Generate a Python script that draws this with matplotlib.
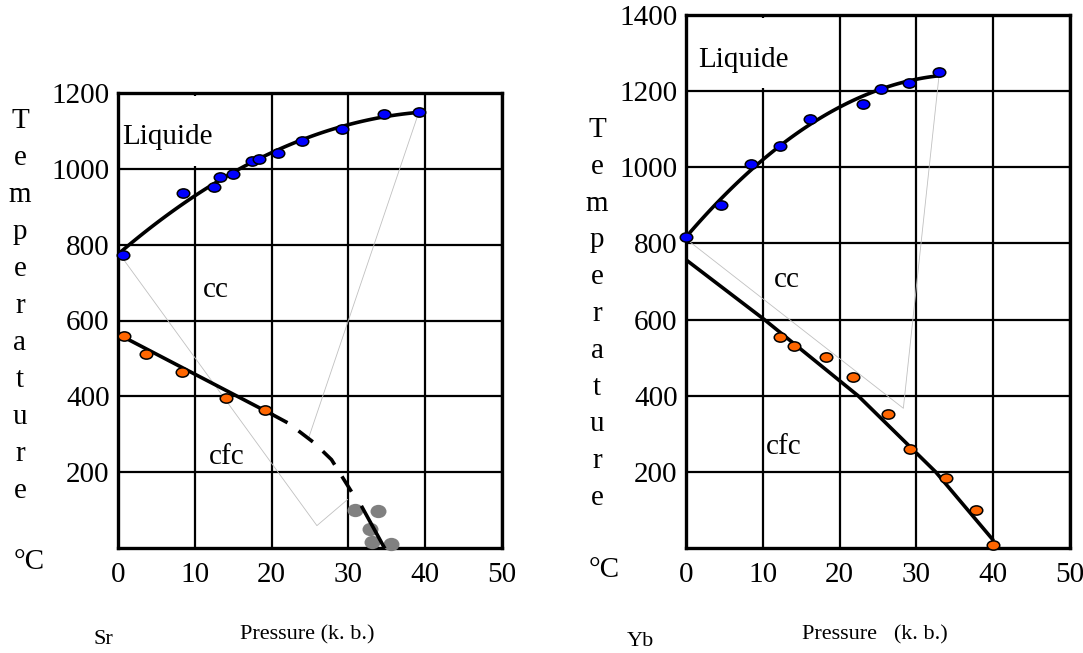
import numpy as np
import matplotlib
matplotlib.use('Agg')
import matplotlib.pyplot as plt
from matplotlib.path import Path
from matplotlib.patches import Rectangle

plt.rcParams['font.family'] = ['Liberation Serif', 'DejaVu Serif']

# ---- Sr (left panel) ----
sr_liq_p = [0.7, 8.4, 12.5, 13.3, 15.0, 17.5, 18.4, 20.8, 24.0, 29.2, 34.7, 39.2]
sr_liq_t = [773, 936, 953, 978, 986, 1020, 1026, 1042, 1073, 1104, 1144, 1151]
sr_fcc_p = [0.8, 3.7, 8.3, 14.0, 19.2]
sr_fcc_t = [559, 511, 465, 396, 363]
sr_hp_p = [30.9, 33.8, 32.8, 33.1, 35.6]
sr_hp_t = [99, 98, 50, 16, 10]
sr_line_p = [0, 20]
sr_line_t = [564, 353]
sr_dash_p = [20, 22.2, 25.5, 27.8, 30.6]
sr_dash_t = [353, 329, 278, 233, 142]
sr_tail_p = [31.8, 34.7]
sr_tail_t = [107, 0]
sr_guide1_p = [0, 25.9, 29.9]
sr_guide1_t = [781, 59, 128]
sr_guide2_p = [39.2, 24.8]
sr_guide2_t = [1151, 289]

# ---- Yb (right panel) ----
yb_liq_p = [0, 4.6, 8.4, 12.3, 16.1, 23.0, 25.4, 29.1, 33.0]
yb_liq_t = [818, 901, 1009, 1056, 1128, 1167, 1205, 1221, 1251]
yb_fcc_p = [12.2, 14.0, 18.2, 21.8, 26.3, 29.2, 33.8, 37.7, 40.0]
yb_fcc_t = [554, 531, 501, 448, 351, 259, 185, 100, 7]
yb_line_p = [0, 10.2, 22.4, 32.5, 39.9]
yb_line_t = [757, 600, 400, 200, 23]
yb_guide_p = [0, 28.3, 33.0]
yb_guide_t = [812, 367, 1251]

xticks = [0, 10, 20, 30, 40, 50]
letters = list('Temperature')

circ = Path.unit_circle()
ellipse = Path(circ.vertices * [1.35, 1.0], circ.codes)
blob = Path(circ.vertices * [1.2, 1.0], circ.codes)

fig = plt.figure(figsize=(10.83, 6.53), dpi=100)
axL = fig.add_axes([118/1083, 1-548/653, 384/1083, 455/653])
axR = fig.add_axes([686/1083, 1-548/653, 384/1083, 533/653])


def setup(ax, ymax):
    ax.set_xlim(0, 50)
    ax.set_ylim(0, ymax)
    ax.set_xticks(xticks)
    ax.set_yticks(range(200, ymax + 1, 200))
    ax.set_axisbelow(True)
    ax.grid(True, color='black', lw=1.6)
    ax.tick_params(length=0, labelsize=21, colors='black')
    ax.tick_params(axis='x', pad=10)
    ax.tick_params(axis='y', pad=6)
    for s in ax.spines.values():
        s.set_linewidth(2.4)
        s.set_color('black')
    # white box behind "Liquide"
    ax.add_patch(Rectangle((0.3, ymax - 192), 14, 184, facecolor='white',
                           edgecolor='none', zorder=1))


setup(axL, 1200)
setup(axR, 1400)

# left
axL.plot(sr_guide1_p, sr_guide1_t, color='#c0c0c0', lw=0.6, zorder=2)
axL.plot(sr_guide2_p, sr_guide2_t, color='#c0c0c0', lw=0.6, zorder=2)
c = np.polyfit(sr_liq_p, sr_liq_t, 2)
xx = np.linspace(0, 39.8, 100)
axL.plot(xx, np.polyval(c, xx), color='black', lw=2.6, zorder=3)
axL.plot(sr_line_p, sr_line_t, color='black', lw=2.6, zorder=3)
axL.plot(sr_dash_p, sr_dash_t, color='black', lw=2.6, ls=(0, (5, 3.8)), zorder=3)
axL.scatter(sr_hp_p, sr_hp_t, marker=blob, s=11.5**2, color='#808080',
            linewidths=0, zorder=3, clip_on=False)
axL.plot(sr_tail_p, sr_tail_t, color='black', lw=2.6, zorder=4)
axL.scatter(sr_liq_p, sr_liq_t, marker=ellipse, s=9**2, color='#0000ff',
            edgecolors='black', linewidths=1.1, zorder=5, clip_on=False)
axL.scatter(sr_fcc_p, sr_fcc_t, marker=ellipse, s=9**2, color='#ff6600',
            edgecolors='black', linewidths=1.1, zorder=5, clip_on=False)
axL.text(0.5, 1084, 'Liquide', fontsize=21, va='center', zorder=6)
axL.text(12.7, 680, 'cc', fontsize=21, ha='center', va='center', zorder=6)
axL.text(14.1, 240, 'cfc', fontsize=21, ha='center', va='center', zorder=6)

# right
axR.plot(yb_guide_p, yb_guide_t, color='#c0c0c0', lw=0.6, zorder=2)
c = np.polyfit(yb_liq_p, yb_liq_t, 2)
xx = np.linspace(0, 33.0, 100)
axR.plot(xx, np.polyval(c, xx), color='black', lw=2.6, zorder=3)
axR.plot(yb_line_p, yb_line_t, color='black', lw=2.6, zorder=3)
axR.scatter(yb_liq_p, yb_liq_t, marker=ellipse, s=9**2, color='#0000ff',
            edgecolors='black', linewidths=1.1, zorder=5, clip_on=False)
axR.scatter(yb_fcc_p, yb_fcc_t, marker=ellipse, s=9**2, color='#ff6600',
            edgecolors='black', linewidths=1.1, zorder=5, clip_on=False)
axR.text(1.6, 1282, 'Liquide', fontsize=21, va='center', zorder=6)
axR.text(13.1, 705, 'cc', fontsize=21, ha='center', va='center', zorder=6)
axR.text(12.7, 265, 'cfc', fontsize=21, ha='center', va='center', zorder=6)

# stacked axis titles
W, H = 1083, 653
for i, ch in enumerate(letters):
    fig.text(20/W, 1 - (127.5 + i*37.1)/H, ch, fontsize=21, ha='center', va='baseline')
    fig.text(597/W, 1 - (137 + i*36.8)/H, ch, fontsize=21, ha='center', va='baseline')
fig.text(29/W, 1 - 562/H, '°C', fontsize=21, ha='center', va='center')
fig.text(604/W, 1 - 570/H, '°C', fontsize=21, ha='center', va='center')

fig.text(103/W, 1 - 640/H, 'Sr', fontsize=16, ha='center', va='center')
fig.text(307/W, 1 - 635/H, 'Pressure (k. b.)', fontsize=16, ha='center', va='center')
fig.text(640/W, 1 - 642/H, 'Yb', fontsize=16, ha='center', va='center')
fig.text(875/W, 1 - 635/H, 'Pressure   (k. b.)', fontsize=16, ha='center', va='center')

fig.savefig('out.png', dpi=100)
